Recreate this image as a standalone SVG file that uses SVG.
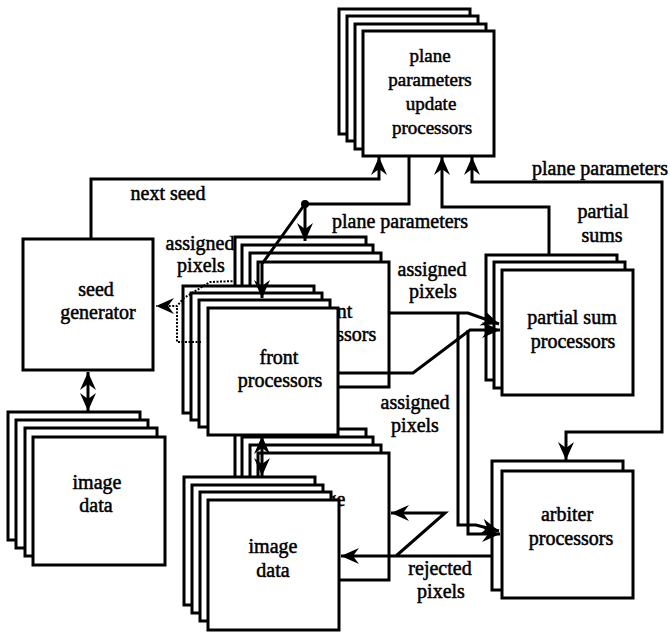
<svg xmlns="http://www.w3.org/2000/svg" width="670" height="632" viewBox="0 0 670 632">
  <style>
    .box { fill: #fff; stroke: #000; stroke-width: 3; }
    .wire { fill: none; stroke: #000; stroke-width: 3; }
    .dotted { fill: none; stroke: #000; stroke-width: 2; stroke-dasharray: 2 1.5; }
    .t { font-family: "Liberation Serif", "Times New Roman", Times, serif; font-size: 20px; text-anchor: middle; fill: #000; stroke: #000; stroke-width: 0.5; }
    .small { font-size: 19px; }
  </style>
  <defs>
    <marker id="head" markerUnits="userSpaceOnUse" viewBox="-19 -9 20 18" markerWidth="20" markerHeight="18" refX="0" refY="0" orient="auto-start-reverse">
      <path d="M0,0 L-18,-8 L-12,0 L-18,8 Z" fill="#000"/>
    </marker>
  </defs>
  <rect width="670" height="632" fill="#fff"/>

  <!-- plane parameters update processors -->
  <g id="update-processors">
    <rect class="box" x="339" y="9" width="131" height="125"/>
    <rect class="box" x="347" y="16" width="131" height="125"/>
    <rect class="box" x="355" y="24" width="131" height="125"/>
    <rect class="box" x="363" y="31" width="131" height="125"/>
    <text class="t small" x="430" y="62">plane</text>
    <text class="t small" x="430" y="86">parameters</text>
    <text class="t small" x="431" y="110">update</text>
    <text class="t small" x="432" y="134">processors</text>
  </g>

  <!-- seed generator -->
  <g id="seed-generator">
    <rect class="box" x="23" y="239" width="130" height="131"/>
    <text class="t" x="96" y="296">seed</text>
    <text class="t" x="98" y="319">generator</text>
  </g>

  <!-- image data, left -->
  <g id="image-data-left">
    <rect class="box" x="8" y="412" width="132" height="128"/>
    <rect class="box" x="16" y="420" width="132" height="128"/>
    <rect class="box" x="25" y="428" width="132" height="128"/>
    <rect class="box" x="33" y="437" width="132" height="128"/>
    <text class="t" x="97" y="489">image</text>
    <text class="t" x="96" y="512">data</text>
  </g>

  <!-- front processors, rear copy -->
  <g id="front-processors-rear">
    <rect class="box" x="235" y="237" width="131" height="125"/>
    <rect class="box" x="242" y="245" width="131" height="125"/>
    <rect class="box" x="250" y="253" width="131" height="125"/>
    <rect class="box" x="258" y="262" width="131" height="125"/>
    <text class="t" x="333" y="318">front</text>
    <text class="t" x="334" y="341">processors</text>
  </g>

  <!-- image data, middle rear copy -->
  <g id="image-data-rear">
    <rect class="box" x="235" y="429" width="131" height="127"/>
    <rect class="box" x="242" y="437" width="131" height="127"/>
    <rect class="box" x="250" y="445" width="131" height="127"/>
    <rect class="box" x="258" y="453" width="131" height="127"/>
    <text class="t" x="321" y="506">image</text>
    <text class="t" x="321" y="530">data</text>
  </g>

  <!-- front processors -->
  <g id="front-processors">
    <rect class="box" x="183" y="286" width="131" height="127"/>
    <rect class="box" x="191" y="293" width="131" height="127"/>
    <rect class="box" x="199" y="300" width="131" height="127"/>
    <rect class="box" x="208" y="308" width="130" height="127"/>
    <text class="t" x="279" y="364">front</text>
    <text class="t" x="280" y="387">processors</text>
  </g>

  <!-- image data, middle -->
  <g id="image-data-front">
    <rect class="box" x="184" y="477" width="131" height="128"/>
    <rect class="box" x="192" y="485" width="131" height="128"/>
    <rect class="box" x="200" y="492" width="131" height="129"/>
    <rect class="box" x="208" y="500" width="131" height="130"/>
    <text class="t" x="273" y="553">image</text>
    <text class="t" x="273" y="577">data</text>
  </g>

  <!-- partial sum processors -->
  <g id="partial-sum-processors">
    <rect class="box" x="486" y="255" width="131" height="125"/>
    <rect class="box" x="494" y="262" width="131" height="126"/>
    <rect class="box" x="502" y="270" width="131" height="125"/>
    <text class="t" x="572" y="324">partial sum</text>
    <text class="t" x="573" y="348">processors</text>
  </g>

  <!-- arbiter processors -->
  <g id="arbiter-processors">
    <rect class="box" x="492" y="461" width="131" height="129"/>
    <rect class="box" x="502" y="471" width="131" height="127"/>
    <text class="t" x="567" y="521">arbiter</text>
    <text class="t" x="571" y="545">processors</text>
  </g>

  <!-- connectors -->
  <g id="connectors">
    <!-- next seed -->
    <path class="wire" d="M91,239 V179 H379 V157" marker-end="url(#head)"/>
    <!-- plane parameters fan-out to the front processors -->
    <path class="wire" d="M409,156 V204 H305"/>
    <circle cx="305" cy="204" r="4" fill="#000"/>
    <path class="wire" d="M305,204 V241" marker-end="url(#head)"/>
    <path class="wire" d="M305,204 L262,264 V298" marker-end="url(#head)"/>
    <!-- partial sums back to the update processors -->
    <path class="wire" d="M549,255 V207 H442 V157" marker-end="url(#head)"/>
    <!-- plane parameters between update and arbiter processors -->
    <path class="wire" d="M472,157 V182 H662 V432 H566 V460" marker-start="url(#head)" marker-end="url(#head)"/>
    <!-- seed generator / image data -->
    <path class="wire" d="M88,372 V411" marker-start="url(#head)" marker-end="url(#head)"/>
    <!-- front processors / image data -->
    <path class="wire" d="M262,436 V476" marker-start="url(#head)" marker-end="url(#head)"/>
    <!-- assigned pixels to partial sum processors -->
    <path class="wire" d="M389,313 H468 L499,324" marker-end="url(#head)"/>
    <path class="wire" d="M338,373 H413 L470,330 H500" marker-end="url(#head)"/>
    <!-- assigned pixels to arbiter processors -->
    <path class="wire" d="M458,313 V525 H476 L499,531" marker-end="url(#head)"/>
    <path class="wire" d="M468,330 V534 H500" marker-end="url(#head)"/>
    <!-- rejected pixels back to image data -->
    <path class="wire" d="M492,556 H341" marker-end="url(#head)"/>
    <path class="wire" d="M396,556 L445,513 H391" marker-end="url(#head)"/>
    <!-- assigned pixels back to seed generator -->
    <path class="dotted" d="M236,281 L210,282 L184,298 L177,306 H156" marker-end="url(#head)"/>
    <path class="dotted" d="M201,342 H177 V306"/>
  </g>

  <!-- connector labels -->
  <g id="labels">
    <text class="t" x="168" y="200">next seed</text>
    <text class="t" x="400" y="228">plane parameters</text>
    <text class="t" x="532" y="175" style="text-anchor:start">plane parameters</text>
    <text class="t" x="603" y="218">partial</text>
    <text class="t" x="602" y="242">sums</text>
    <text class="t" x="200" y="250">assigned</text>
    <text class="t" x="201" y="272">pixels</text>
    <text class="t" x="432" y="276">assigned</text>
    <text class="t" x="433" y="298">pixels</text>
    <text class="t" x="415" y="409">assigned</text>
    <text class="t" x="415" y="432">pixels</text>
    <text class="t" x="440" y="575">rejected</text>
    <text class="t" x="441" y="598">pixels</text>
  </g>
</svg>
